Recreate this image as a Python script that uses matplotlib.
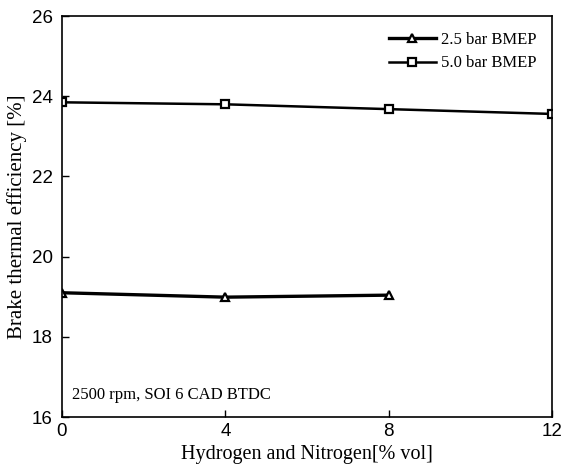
import matplotlib
matplotlib.use("Agg")
import matplotlib.pyplot as plt

# Brake thermal efficiency vs. H2/N2 addition
x_25 = [0, 4, 8]
bte_25 = [19.10, 18.99, 19.04]
x_50 = [0, 4, 8, 12]
bte_50 = [23.85, 23.80, 23.68, 23.56]

labels = ["2.5 bar BMEP", "5.0 bar BMEP"]
x_ticks = [0, 4, 8, 12]
y_ticks = [16, 18, 20, 22, 24, 26]

serif = ["Liberation Serif", "DejaVu Serif"]
sans = ["Liberation Sans", "DejaVu Sans"]

fig = plt.figure(figsize=(5.61, 4.67), dpi=100)
ax = fig.add_axes([0.1105, 0.107, 0.8735, 0.8585])

ax.plot(x_25, bte_25, color="black", lw=2.4, marker="^", ms=6,
        mfc="white", mec="black", mew=1.6, label=labels[0])
ax.plot(x_50, bte_50, color="black", lw=1.8, marker="s", ms=6,
        mfc="white", mec="black", mew=1.6, label=labels[1])

ax.set_xlim(0, 12)
ax.set_ylim(16, 26)
ax.set_xticks(x_ticks)
ax.set_yticks(y_ticks)
ax.tick_params(direction="in", length=5, width=1, labelsize=13.5)
ax.tick_params(axis="y", pad=6.5)
ax.tick_params(axis="x", pad=4)
for lab in ax.get_xticklabels() + ax.get_yticklabels():
    lab.set_family(sans)
for s in ax.spines.values():
    s.set_linewidth(1.2)

ax.set_xlabel("Hydrogen and Nitrogen[% vol]", family=serif, fontsize=14.5, labelpad=4)
ax.set_ylabel("Brake thermal efficiency [%]", family=serif, fontsize=15)
ax.yaxis.set_label_coords(-0.072, 0.5)

leg = ax.legend(loc="upper right", frameon=False, prop={"family": serif, "size": 12},
                handlelength=2.8, borderaxespad=0.55, labelspacing=0.45,
                handletextpad=0.3)

ax.text(0.02, 0.035, "2500 rpm, SOI 6 CAD BTDC", transform=ax.transAxes,
        family=serif, fontsize=12, ha="left", va="bottom")

fig.savefig("out.png", dpi=100)
